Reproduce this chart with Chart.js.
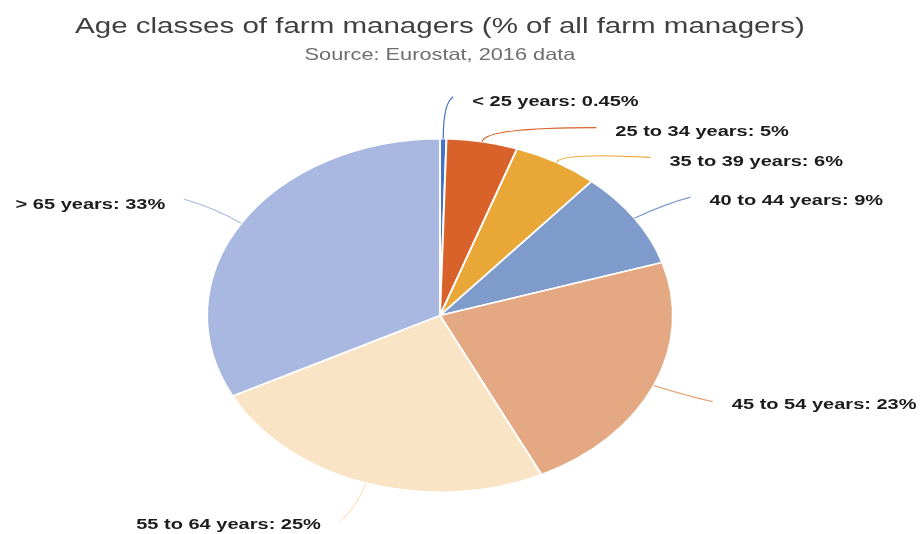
<!DOCTYPE html>
<html>
<head>
<meta charset="utf-8">
<script src="https://cdn.jsdelivr.net/npm/chart.js@4.4.1/dist/chart.umd.min.js"></script>
<style>
  html, body { margin: 0; padding: 0; background: #ffffff; }
  #wrap { width: 922px; height: 534px; }
</style>
</head>
<body>
<div id="wrap"><canvas id="pie" width="922" height="534"></canvas></div>
<script>
const chartTitle = "Age classes of farm managers (% of all farm managers)";
const chartSource = "Source: Eurostat, 2016 data";
const ageClasses = ["< 25 years", "25 to 34 years", "35 to 39 years", "40 to 44 years", "45 to 54 years", "55 to 64 years", "> 65 years"];
const shares = [0.45, 5, 6, 9, 23, 25, 33];
const shareLabels = ["0.45%", "5%", "6%", "9%", "23%", "25%", "33%"];
const sliceColors = ["#4472c4", "#d8622a", "#e8a736", "#7f9bcb", "#e4a982", "#f9e5c5", "#a8b8e0"];

// leader line shape per slice: elbow dx, dy, end dx, dy (relative to slice edge), label dy
const leaders = [
  [0, -36, 10, -42, 5],
  [2, -14, 114, -14, 4],
  [4, -10, 94, -5, 4],
  [30, -14, 56, -21, 4],
  [36, 11, 59, 16, 3],
  [-11, 27, -26, 38, 4],
  [-26, -15, -57, -24, 6]
];
const STRETCH = 1.318; // everything is drawn wide, pie becomes an ellipse
const FONT = "'Liberation Sans', Arial, sans-serif";

// text drawn with the same horizontal stretch as the pie
function wideText(ctx, text, x, y, align) {
  ctx.save();
  ctx.translate(x, y);
  ctx.scale(STRETCH, 1);
  ctx.textAlign = align;
  ctx.fillText(text, 0, 0);
  ctx.restore();
}

const ellipsePie = {
  id: "ellipsePie",
  beforeDatasetsDraw(chart) {
    const arc = chart.getDatasetMeta(0).data[0];
    const ctx = chart.ctx;
    ctx.save();
    ctx.translate(arc.x, arc.y);
    ctx.scale(STRETCH, 1);
    ctx.translate(-arc.x, -arc.y);
  },
  afterDatasetsDraw(chart) {
    const ctx = chart.ctx;
    ctx.restore();

    const arcs = chart.getDatasetMeta(0).data;
    const cx = arcs[0].x;

    // heading
    ctx.save();
    ctx.textBaseline = "alphabetic";
    ctx.fillStyle = "#404040";
    ctx.font = "22.4px " + FONT;
    wideText(ctx, chartTitle, cx, 33, "center");
    ctx.fillStyle = "#6e6e6e";
    ctx.font = "16.5px " + FONT;
    wideText(ctx, chartSource, cx, 60, "center");
    ctx.restore();

    arcs.forEach((arc, i) => {
      const mid = (arc.startAngle + arc.endAngle) / 2;
      const ex = arc.x + arc.outerRadius * STRETCH * Math.cos(mid);
      const ey = arc.y + arc.outerRadius * Math.sin(mid);
      const [bx, by, tx, ty, ldy] = leaders[i];

      ctx.save();
      ctx.strokeStyle = sliceColors[i];
      ctx.lineWidth = 1.2;
      ctx.beginPath();
      ctx.moveTo(ex, ey);
      ctx.quadraticCurveTo(ex + bx, ey + by, ex + tx, ey + ty);
      ctx.stroke();

      const right = tx >= 0;
      ctx.fillStyle = "#1c1c1c";
      ctx.font = "bold 15.2px " + FONT;
      ctx.textBaseline = "middle";
      const lx = ex + tx + (right ? 19 : -19);
      wideText(ctx, ageClasses[i] + ": " + shareLabels[i], lx, ey + ty + ldy, right ? "left" : "right");
      ctx.restore();
    });
  }
};

new Chart(document.getElementById("pie"), {
  type: "pie",
  data: {
    labels: ageClasses,
    datasets: [{
      data: shares,
      backgroundColor: sliceColors,
      borderColor: "#ffffff",
      borderWidth: 1.5
    }]
  },
  options: {
    responsive: false,
    animation: false,
    layout: { padding: { top: 138, bottom: 41, left: 0, right: 42 } },
    plugins: {
      legend: { display: false },
      tooltip: { enabled: false },
      title: { display: false }
    }
  },
  plugins: [ellipsePie]
});
</script>
</body>
</html>
